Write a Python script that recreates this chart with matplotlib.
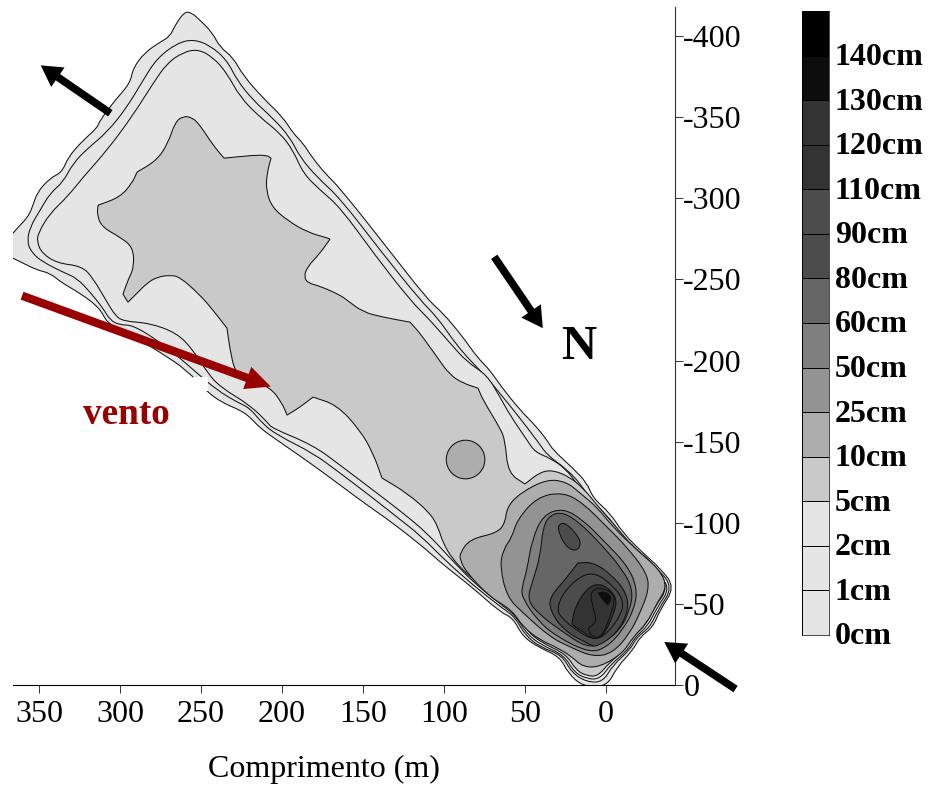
import matplotlib
matplotlib.use('Agg')
import matplotlib.pyplot as plt
from matplotlib.path import Path
from matplotlib.patches import PathPatch, Rectangle

plt.rcParams['font.family'] = ['Liberation Serif', 'DejaVu Serif']
plt.rcParams['axes.unicode_minus'] = False

# contour outlines, (comprimento m, largura m)
c0 = [(372,-271),(364.8,-280.4),(357.4,-287.8),(354.3,-294),(351.2,-303.8),(343.2,-312.5),(335.8,-316.2),(332.1,-325.4),
      (322.8,-335.9),(314.2,-343.3),(312.4,-348.2),(303.1,-360.5),(293.8,-371),(292,-380.3),(284.6,-390.1),(275.3,-396.3),
      (269.1,-400),(266,-406.8),(260.5,-414.8),(256.2,-414.8),(250.6,-409.8),(243.2,-402.4),(238.3,-393.2),(230.3,-387),
      (224.1,-375.9),(211.7,-361.8),(199.4,-350),(193.2,-340.2),(187,-334),(181.5,-325.4),(173.5,-315.5),(164.2,-306.3),
      (136.4,-271.2),(109.9,-237.3),(100.6,-229.3),(88.3,-214.5),(79.6,-202.1),(71.6,-194.1),(65.4,-184.9),(53.1,-169.5),
      (43.8,-160.2),(36.4,-151),(32.7,-144.8),(20.4,-133.7),(11.7,-124.5),(8,-115.2),(-2.5,-106),(-10.5,-93.7),(-22.8,-81.4),
      (-33.3,-72.1),(-42.6,-60.4),(-33.3,-46.2),(-29,-35.7),(-21,-29.6),(-16.7,-21.6),(-6.8,-11.1),(-0.6,1),(14.2,1),
      (23.5,-7.4),(28.4,-17.3),(40.7,-22.8),(51.2,-29.6),(57.4,-41.3),(65.4,-45),(82.1,-59.8),(102.5,-75.8),(110.5,-83.2),
      (131.5,-99.8),(147.5,-110.9),(164.2,-123.3),(180.9,-135.6),(196.9,-146.7),(203.1,-151),(213.6,-158.4),(219.8,-165.2),
      (225.9,-169.5),(236.4,-173.8),(246.3,-180.6),(258.7,-194.1),(275.3,-205.2),(298.2,-218.8),(308,-223.1),(312.4,-232.3),
      (324.7,-241.6),(335.8,-247.8),(343.2,-253.9),(351.2,-255.8),(359.9,-260.1),(372,-266)]
c1 = [(357.4,-273),(355.6,-282.3),(349.4,-292.7),(343.2,-303.2),(335.2,-310),(329,-321.7),(319.8,-331),(308,-340.8),
      (295.7,-356.2),(285.8,-372.9),(277.2,-386.4),(264.8,-395.7),(254.9,-398.1),(244.5,-394.4),(234,-385.2),(227.8,-372.9),
      (217.9,-360.5),(205.6,-349.4),(195.1,-337.7),(188.9,-325.4),(178.4,-313.1),(164.2,-300.1),(139.5,-268.1),(114.8,-237.3),
      (104.3,-226.8),(94.4,-212.6),(85.8,-202.1),(77.8,-194.1),(65.4,-180),(42.6,-151),(36.4,-141.7),(23.5,-132.5),(14.2,-122),
      (9.9,-114),(-0.6,-104.8),(-8.6,-93.7),(-21,-80.1),(-31.5,-72.1),(-41.4,-60.4),(-32.1,-46.2),(-27.2,-35.7),(-19.1,-29.6),
      (-14.8,-21.6),(-4.3,-12.3),(1.9,-1.8),(11.7,-1.8),(21,-7.4),(27.2,-18.5),(40.7,-23.4),(50,-30.8),(56.2,-41.9),(64.2,-47.5),
      (82.1,-61.6),(98.2,-75.8),(114.8,-92.4),(129,-103.5),(143.8,-115.2),(164.2,-130.7),(180.9,-143),(203.1,-154.1),
      (212.4,-161.5),(219.8,-170.7),(227.8,-174.4),(240.1,-181.8),(252.5,-192.3),(263,-201.5),(275.3,-211.4),(292,-221.9),
      (300,-221.9),(306.2,-224.9),(310.5,-232.3),(318.5,-242.2),(326.6,-250.8),(335.2,-254.5),(347.5,-260.7),(354.3,-266.2)]
c2 = [(351.2,-273),(350.6,-278.6),(343.2,-290.9),(332.7,-300.8),(322.8,-313.1),(308,-329.7),(292,-351.3),(279.6,-371),
      (271,-383.3),(261.1,-390.1),(251.9,-392),(242.6,-387),(234,-377.2),(225.9,-362.4),(213.6,-350),(201.2,-340.2),
      (193.2,-329.7),(187,-315.5),(176.5,-305.1),(164.2,-294.6),(142.6,-265),(121,-237.3),(108.6,-224.9),(96.3,-210.8),
      (85.8,-199.1),(73.5,-191.1),(65.4,-177.5),(59.3,-166.4),(48.8,-151),(43.8,-143.6),(34.6,-139.9),(25.3,-133.7),
      (17.3,-123.3),(11.7,-114),(1.9,-103.5),(-6.8,-92.4),(-19.1,-78.9),(-29,-70.9),(-40.1,-60.4),(-30.9,-46.8),(-25.9,-36.4),
      (-17.9,-29.6),(-13.6,-21.6),(-3.1,-12.9),(3.7,-3.7),(11.7,-3.7),(19.8,-8),(25.9,-18.5),(40.1,-24.7),(49.4,-32),(55.6,-42.5),
      (63.6,-48.7),(81.5,-62.9),(95.1,-77),(110.5,-93.7),(125.3,-106),(141.4,-118.3),(164.2,-135.6),(180.9,-147.9),(206.2,-158.4),
      (208.6,-161.5),(219.8,-172.6),(238.3,-183.7),(246.3,-192.9),(254.9,-206.5),(264.8,-216.9),(281.5,-223.1),(298.2,-224.3),
      (303.1,-228),(308,-236),(316.7,-250.8),(323.5,-258.2),(338.9,-260.1),(348.2,-266.2)]
# repeated points are the sharp tips of the outline
c5 = [(313.6,-295.8),(300,-300.8),(292.6,-309.4),(289.5,-316.2),(289.5,-316.2),(277.2,-323.6),(270.4,-334),(266,-347),(261.1,-350.7),
      (255.6,-350),(250.6,-345.1),(242.6,-332.8),(235.8,-324.8),(235.8,-324.8),(217.9,-326.6),(209.3,-326.6),(206.8,-324.8),(206.8,-324.8),(209.3,-315.5),
      (209.9,-305.1),(206.2,-294.6),(196.9,-286.6),(184.6,-279.2),(171.6,-275.5),(170.4,-274.9),(170.4,-274.9),(176.5,-266.2),(184.6,-257.6),
      (186.4,-251.5),(184,-247.8),(176.5,-245.9),(164.2,-240.4),(159.9,-237.3),(150,-229.9),(137.7,-226.8),(121,-223.7),(121,-223.7),
      (114.8,-216.9),(104.3,-202.1),(96.3,-191.1),(88.3,-186.1),(79,-183),(79,-183),(75.9,-175.6),(65.4,-158.4),(62.3,-151),(60.5,-130.7),
      (50,-123.9),(50,-123.9),(40.7,-131.3),(32.7,-132.5),(22.2,-128.2),(13,-120.2),(5.6,-110.9),(-4.3,-99.8),(-16.7,-85),(-29,-75.2),
      (-38.9,-60.4),(-29.6,-47.5),(-24.7,-37),(-16.7,-30.2),(-12.3,-22.2),(-1.9,-13.6),(4.9,-5.5),(11.7,-5.5),(18.5,-9.2),
      (24.7,-19.1),(39.5,-25.9),(48.8,-33.3),(54.9,-43.8),(63,-49.9),(80.9,-64.1),(88.3,-70.9),(95.1,-78.3),(100.6,-87.5),
      (103.7,-97.4),(108.6,-106),(122.8,-118.3),(138.3,-127.6),(138.3,-127.6),(143.8,-143),(151.9,-157.2),(166.1,-172.6),
      (180.9,-177.5),(180.9,-177.5),(188.9,-171.3),(196.9,-166.4),(196.9,-166.4),(200,-173.8),(207.4,-183.7),(222.8,-189.2),(229,-192.9),(232.1,-206.5),
      (234,-220),(234,-220),(242.6,-231.1),(250.6,-240.4),(263,-251.5),(269.1,-252.7),(277.2,-251.5),(283.3,-247.8),(289.5,-241.6),
      (295.1,-236),(295.1,-236),(298.2,-241),(298.2,-241),(295.1,-249.6),(291.4,-257.6),(292,-269.9),(300,-276.1),(311.1,-282.3),(314.2,-289.7),(313.6,-295.8)]
c10_ilha = [(99.6,-139),(95.8,-148.1),(86.7,-151.9),(77.6,-148.1),(73.8,-139),(77.6,-129.9),(86.7,-126.1),(95.8,-129.9)]
c10 = [(90.1,-81.4),(84,-90),(67.3,-93.7),(62.3,-99.8),(61.1,-109.7),(53.1,-118.3),(36.4,-127),(24.1,-125.1),(16,-118.3),
       (5.6,-109.7),(-4.3,-97.4),(-19.1,-83.2),(-33.3,-70.9),(-37.7,-60.4),(-31.5,-50.5),(-25.3,-38.2),(-16.7,-29.6),(-10.5,-19.7),
       (3.7,-11.1),(14.2,-11.1),(21,-17.3),(29.6,-22.8),(40.7,-27.7),(51.2,-35.7),(58,-46.2),(71.6,-54.2),(85.8,-69),(90.1,-77)]
c25 = [(65.4,-72.7),(63.6,-83.2),(58,-91.2),(54.9,-101.7),(42.6,-115.9),(26.5,-118.9),(14.2,-112.2),(-0.6,-97.4),(-13,-85),
       (-25.3,-69),(-26.5,-58.5),(-21,-44.4),(-14.8,-32),(-4.3,-19.7),(8,-17.3),(22.2,-23.4),(34.6,-29.6),(51.2,-44.4),(61.1,-54.2)]
c50 = [(51.9,-60.4),(48.8,-70.9),(45.7,-89.4),(38.9,-104.8),(26.5,-109.1),(14.2,-101.7),(1.9,-89.4),(-13,-74),(-19.1,-60.4),
       (-17.9,-48.1),(-10.5,-33.9),(-0.6,-23.4),(9.9,-19.7),(30.2,-29.6),(42.6,-40.1),(51.9,-54.2)]
c60 = [(48.8,-52.4),(45.1,-64.7),(40.7,-78.9),(38.9,-97.4),(34.6,-104.8),(26.5,-106.6),(16,-99.8),(3.7,-87.5),(-10.5,-70.9),
       (-16.7,-58.5),(-14.8,-46.2),(-8.6,-33.9),(1.9,-25.9),(11.7,-22.8),(28.4,-33.9),(40.7,-43.1)]
c80_ilha = [(29.6,-98.6),(25.3,-100.5),(16,-90.6),(16,-84.4),(20.4,-82.6),(25.3,-86.3),(29,-93.7)]
c80 = [(34.6,-54.2),(26.5,-63.5),(17.3,-75.2),(17.3,-75.2),(8.6,-75.8),(-2.5,-69),(-13,-56.7),(-13.6,-45),(-6.8,-32),(5.6,-23.4),(9.9,-24.7),
       (26.5,-33.9),(34.6,-46.2)]
c90 = [(30.2,-48.1),(25.3,-58.5),(14.8,-67.8),(5.6,-69),(-5.6,-59.8),(-10.5,-52.4),(-9.9,-44.4),(-1.2,-32),(6.8,-27.7),(16,-32),
       (28.4,-41.9)]
c110 = [(21,-38.8),(19.1,-48.1),(11.7,-59.8),(3.7,-62.9),(-4.3,-57.3),(-6.8,-50.5),(-3.7,-41.3),(1.9,-29.6),(8,-28.3),(13,-32),(21,-37)]
c120 = [(11.1,-35.1),(5.6,-38.8),(8,-48.1),(9.9,-56.7),(4.9,-60.4),(-3.7,-57.3),(-5.6,-52.4),(-2.5,-41.9),(2.5,-29.6),(8,-29.6),(10.5,-32.7)]
c130 = [(4.9,-56.7),(4.9,-56.7),(0.6,-57.9),(-3.7,-54.2),(-1.2,-49.3),(-1.2,-49.3),(1.9,-52.4)]

niveis = ['0cm','1cm','2cm','5cm','10cm','25cm','50cm','60cm','80cm','90cm','110cm','120cm','130cm','140cm']
cinzas = ['#e5e5e5','#e5e5e5','#e5e5e5','#c9c9c9','#adadad','#939393','#7f7f7f','#666666','#4c4c4c','#4c4c4c','#333333','#333333','#0d0d0d','#000000']
xticks = [350,300,250,200,150,100,50,0]
yticks = [0,-50,-100,-150,-200,-250,-300,-350,-400]


def contorno(ax, pts, cor):
    # quadratic curve through the midpoints so the outline stays smooth
    n = len(pts)
    mids = [((pts[i][0]+pts[(i+1)%n][0])/2, (pts[i][1]+pts[(i+1)%n][1])/2) for i in range(n)]
    verts = [mids[-1]]
    codes = [Path.MOVETO]
    for i in range(n):
        verts += [pts[i], mids[i]]
        codes += [Path.CURVE3, Path.CURVE3]
    ax.add_patch(PathPatch(Path(verts, codes), facecolor=cor, edgecolor='#111111', lw=0.75))


def seta(ax, ini, fim, cor, larg, cab_l, cab_c):
    ax.annotate('', xy=fim, xytext=ini, annotation_clip=False, zorder=6,
                arrowprops=dict(facecolor=cor, edgecolor=cor, width=larg, headwidth=cab_l, headlength=cab_c, shrink=0, lw=0))


fig = plt.figure(figsize=(9.32, 7.87), dpi=100)
ax = fig.add_axes([13/932, 1-685/787, 662/932, 678/787])

contorno(ax, c0, cinzas[0])
contorno(ax, c1, cinzas[1])
contorno(ax, c2, cinzas[2])
contorno(ax, c5, cinzas[3])
contorno(ax, c10_ilha, cinzas[4])
contorno(ax, c10, cinzas[4])
contorno(ax, c25, cinzas[5])
contorno(ax, c50, cinzas[6])
contorno(ax, c60, cinzas[7])
contorno(ax, c80_ilha, cinzas[8])
contorno(ax, c80, cinzas[8])
contorno(ax, c90, cinzas[9])
contorno(ax, c110, cinzas[10])
contorno(ax, c120, cinzas[11])
contorno(ax, c130, cinzas[12])
ax.add_patch(Rectangle((246,-190), 9, 9, facecolor='white', edgecolor='none', zorder=4))

ax.set_xlim(366.1, -42.6)
ax.set_ylim(0, -418)
ax.spines['top'].set_visible(False)
ax.spines['left'].set_visible(False)
ax.spines['right'].set_color('#333333')
ax.yaxis.tick_right()
ax.set_xticks(xticks)
ax.set_yticks(yticks)
ax.tick_params(axis='x', labelsize=23, length=6, width=0.7, color='#333333', pad=4.5)
ax.tick_params(axis='y', labelsize=23, length=5.5, width=0.7, color='#333333', pad=0.5)
ax.set_xlabel('Comprimento (m)', fontsize=23)
ax.xaxis.set_label_coords(0.47, -0.124)
ax.xaxis.label.set_va('center')

seta(ax, (306,-352.5), (349,-382), 'black', 5.5, 17, 15)
seta(ax, (69,-264), (39,-220), 'black', 5.5, 17, 15)
seta(ax, (-80,2.5), (-36,-26.5), 'black', 5.5, 17, 15)
seta(ax, (360.5,-240), (207,-184), '#990000', 6, 17, 18)

ax.text(17, -208.5, 'N', fontsize=35, fontweight='bold', ha='center', va='center')
ax.text(296, -167, 'vento', fontsize=26.8, fontweight='bold', color='#990000', ha='center', va='center')

# legenda
cb = fig.add_axes([802/932, 1-635/787, 27/932, 624/787])
cb.barh(range(len(niveis)), 1, height=1, align='edge', color=cinzas, edgecolor='black', lw=0.7)
cb.set_xlim(0, 1)
cb.set_ylim(0, len(niveis))
cb.set_xticks([])
cb.set_yticks([])
for i, nome in enumerate(niveis):
    cb.annotate(nome, xy=(1, i), xytext=(4.3, -1.4), textcoords='offset points', fontsize=23, fontweight='bold',
                va='center', ha='left', annotation_clip=False)
for s in cb.spines.values():
    s.set_linewidth(0.5)

fig.savefig('out.png', dpi=100)
